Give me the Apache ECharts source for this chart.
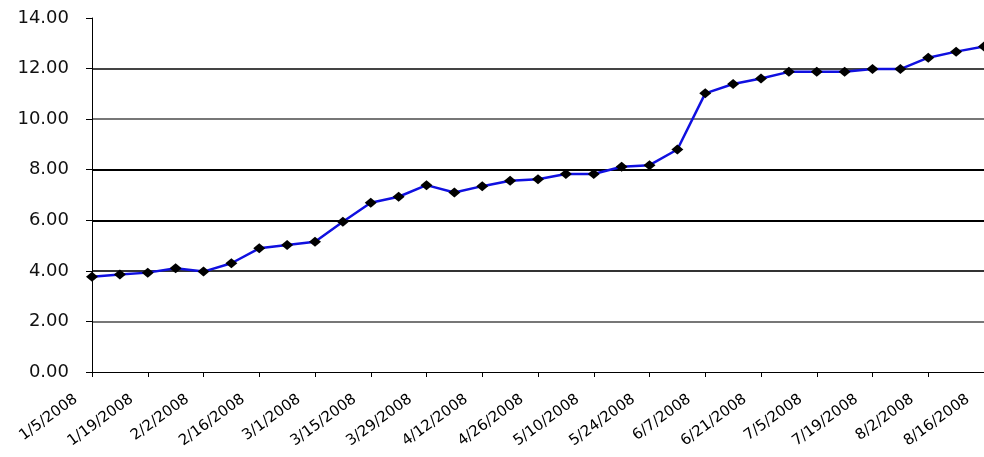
<!DOCTYPE html>
<html>
<head>
<meta charset="utf-8">
<script src="https://cdn.jsdelivr.net/npm/echarts@6/dist/echarts.min.js"></script>
<style>
html,body{margin:0;padding:0;background:#fff;overflow:hidden;}
#chart{width:984px;height:457px;}
</style>
</head>
<body>
<div id="chart"></div>
<script>
// Weekly dates (category axis)
const categories = [
  '1/5/2008','1/12/2008','1/19/2008','1/26/2008','2/2/2008','2/9/2008','2/16/2008','2/23/2008',
  '3/1/2008','3/8/2008','3/15/2008','3/22/2008','3/29/2008','4/5/2008','4/12/2008','4/19/2008',
  '4/26/2008','5/3/2008','5/10/2008','5/17/2008','5/24/2008','5/31/2008','6/7/2008','6/14/2008',
  '6/21/2008','6/28/2008','7/5/2008','7/12/2008','7/19/2008','7/26/2008','8/2/2008','8/9/2008','8/16/2008'
];
// Series values
const values = [
  3.77, 3.86, 3.93, 4.10, 3.97, 4.30, 4.89, 5.02,
  5.15, 5.94, 6.69, 6.93, 7.39, 7.10, 7.35, 7.56,
  7.62, 7.83, 7.83, 8.12, 8.18, 8.80, 11.02, 11.39,
  11.61, 11.87, 11.87, 11.87, 11.98, 11.98, 12.43, 12.67, 12.87
];
// Y axis tick values
const yTicks = [0, 2, 4, 6, 8, 10, 12, 14];

const chart = echarts.init(document.getElementById('chart'), null, {renderer: 'canvas'});
chart.setOption({
  animation: false,
  backgroundColor: '#fff',
  grid: {left: 92, right: -9, top: 18, bottom: 85, containLabel: false},
  xAxis: {
    type: 'category',
    data: categories,
    boundaryGap: false,
    axisLine: {show: true, lineStyle: {color: '#000', width: 1}},
    axisTick: {show: true, interval: 1, length: 5, lineStyle: {color: '#000'}},
    axisLabel: {
      interval: 1,
      rotate: 36,
      margin: 14,
      padding: [0, 20, 0, 0],
      color: '#000',
      fontFamily: 'DejaVu Sans',
      fontSize: 15
    },
    splitLine: {show: false}
  },
  yAxis: {
    type: 'value',
    min: yTicks[0],
    max: yTicks[yTicks.length - 1],
    interval: 2,
    axisLine: {show: true, lineStyle: {color: '#000', width: 1}},
    axisTick: {show: true, length: 6, lineStyle: {color: '#000'}},
    axisLabel: {
      margin: 23,
      color: '#111',
      fontFamily: 'DejaVu Sans',
      fontSize: 18,
      formatter: v => v.toFixed(2)
    },
    splitLine: {
      show: true,
      lineStyle: {
        width: 2,
        color: ['rgba(0,0,0,0)', '#777', '#333', '#000', '#000', '#777', '#444', 'rgba(0,0,0,0)']
      }
    }
  },
  series: [{
    type: 'line',
    data: values,
    symbol: 'diamond',
    symbolSize: [12, 10],
    showSymbol: true,
    itemStyle: {color: '#000', borderWidth: 0},
    lineStyle: {color: '#1010e0', width: 2.5}
  }]
});
</script>
</body>
</html>
